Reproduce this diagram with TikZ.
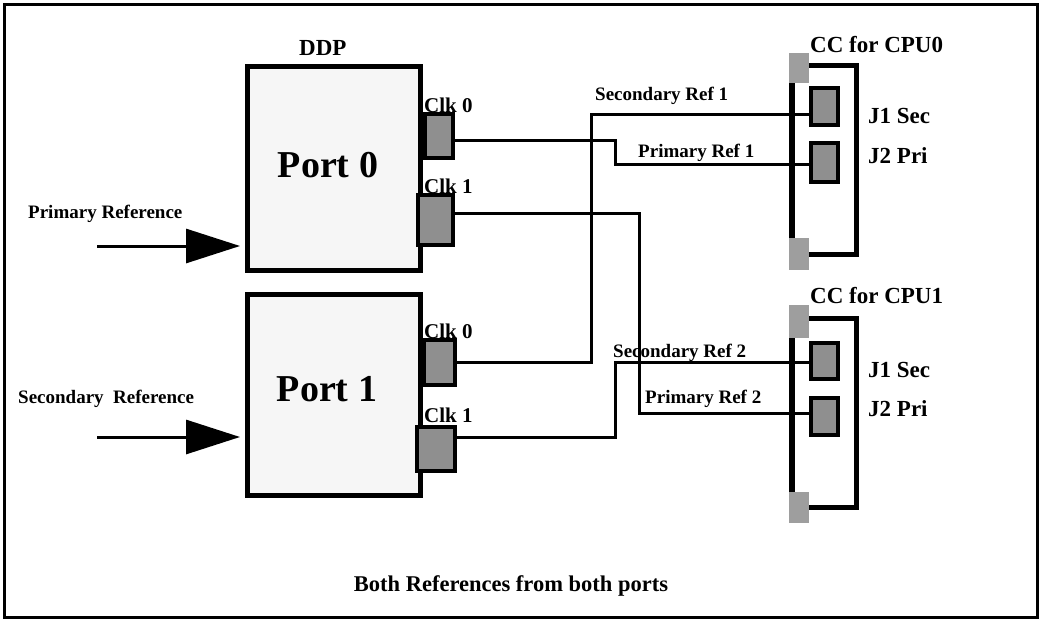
\documentclass[tikz,border=0pt]{standalone}
\usepackage{fontspec}
\setmainfont{Liberation Serif}
\usetikzlibrary{arrows.meta}
\definecolor{ddpfill}{RGB}{246,246,246}
\definecolor{clkgray}{RGB}{143,143,143}
\definecolor{padgray}{RGB}{158,158,158}
\tikzset{
  port/.style={draw=black,fill=ddpfill,line width=5pt,minimum width=173pt},
  portlbl/.style={font=\fontsize{38}{44}\selectfont\bfseries,inner sep=0pt,anchor=base},
  clk/.style={draw=black,fill=clkgray,line width=4pt,inner sep=0pt},
  pad/.style={fill=padgray,inner sep=0pt,minimum width=20pt},
  lbl/.style={font=\fontsize{19}{22}\selectfont\bfseries,inner sep=0pt,anchor=base west},
  biglbl/.style={font=\fontsize{21}{24}\selectfont\bfseries,inner sep=0pt,anchor=base west},
  cclbl/.style={font=\fontsize{23}{26}\selectfont\bfseries,inner sep=0pt,anchor=base west},
  wire/.style={line width=3pt},
  bar/.style={line width=6pt},
  bracket/.style={line width=5pt},
  refarr/.style={-{Triangle[length=54pt,width=34pt]},line width=3pt,shorten >=5pt},
}
\begin{document}
\begin{tikzpicture}[x=1pt,y=-1pt]
  \useasboundingbox (0,0) rectangle (1045,621);
  \draw[line width=3pt] (4,4) rectangle (1037,617);
  % DDP ports
  \node[port,minimum height=204pt] (port0) at (334,168.5) {};
  \node[port,minimum height=201pt] (port1) at (334,395) {};
  \node[portlbl] (port0lbl) at (328,177) {Port 0};
  \node[portlbl] (port1lbl) at (327,401) {Port 1};
  \node[cclbl] (ddp) at (299,55) {DDP};
  \node[clk,minimum width=28pt,minimum height=44pt] (p0clk0) at (439,136) {};
  \node[clk,minimum width=35pt,minimum height=50pt] (p0clk1) at (435.5,220) {};
  \node[clk,minimum width=31pt,minimum height=45pt] (p1clk0) at (439.5,362.5) {};
  \node[clk,minimum width=38pt,minimum height=44pt] (p1clk1) at (436,449) {};
  \node[biglbl] (l00) at (424,112) {Clk 0};
  \node[biglbl] (l01) at (424,193) {Clk 1};
  \node[biglbl] (l10) at (424,338) {Clk 0};
  \node[biglbl] (l11) at (424,422) {Clk 1};
  % reference inputs
  \coordinate (pritail) at (97,246);
  \coordinate (sectail) at (97,437);
  \draw[refarr] (pritail) -- (pritail -| port0.west);
  \draw[refarr] (sectail) -- (sectail -| port1.west);
  \node[lbl] (prilbl) at (28,218) {Primary Reference};
  \node[lbl] (seclbl) at (18,403) {Secondary\ \ Reference};
  % clock cards
  \node[pad,minimum height=30pt] (cc0top) at (799,68) {};
  \node[pad,minimum height=32pt] (cc0bot) at (799,254) {};
  \node[pad,minimum height=33pt] (cc1top) at (799,321.5) {};
  \node[pad,minimum height=31pt] (cc1bot) at (799,507.5) {};
  \draw[bar] ([xshift=3pt]cc0top.south west) -- ([xshift=3pt]cc0bot.north west);
  \draw[bar] ([xshift=3pt]cc1top.south west) -- ([xshift=3pt]cc1bot.north west);
  \draw[bracket] ([yshift=3pt]cc0top.east) -- ++(47,0) |- (cc0bot.east);
  \draw[bracket] ([yshift=3.5pt]cc1top.east) -- ++(47,0) |- (cc1bot.east);
  \node[clk,minimum width=27pt,minimum height=37pt] (cc0j1) at (824.5,106.5) {};
  \node[clk,minimum width=27pt,minimum height=39pt] (cc0j2) at (824.5,162.5) {};
  \node[clk,minimum width=27pt,minimum height=36pt] (cc1j1) at (824.5,361) {};
  \node[clk,minimum width=27pt,minimum height=37pt] (cc1j2) at (824.5,416.5) {};
  \node[cclbl] (cc0lbl) at (810,52) {CC for CPU0};
  \node[cclbl] (cc1lbl) at (810,303) {CC for CPU1};
  \node[cclbl] (j1a) at (868,123) {J1 Sec};
  \node[cclbl] (j2a) at (868,163) {J2 Pri};
  \node[cclbl] (j1b) at (868,377) {J1 Sec};
  \node[cclbl] (j2b) at (868,416) {J2 Pri};
  % reference wiring
  \draw[wire] ([yshift=-4pt]p0clk0.east) -- ++(160,0) |- ([yshift=-1.5pt]cc0j2.west);
  \draw[wire] ([yshift=7pt]p0clk1.east) -- ++(184,0) |- ([yshift=3.5pt]cc1j2.west);
  \draw[wire] (p1clk0.east) -- ++(134,0) |- ([yshift=-7.5pt]cc0j1.west);
  \draw[wire] ([yshift=12pt]p1clk1.east) -- ++(158,0) |- ([yshift=-1pt]cc1j1.west);
  \node[lbl] (sec1) at (595,100) {Secondary Ref 1};
  \node[lbl] (pri1) at (638,157) {Primary Ref 1};
  \node[lbl] (sec2) at (613,357) {Secondary Ref 2};
  \node[lbl] (pri2) at (645,403) {Primary Ref 2};
  \node[cclbl,font=\fontsize{22.5}{26}\selectfont\bfseries,anchor=base] (note) at (511,591) {Both References from both ports};
\end{tikzpicture}
\end{document}
